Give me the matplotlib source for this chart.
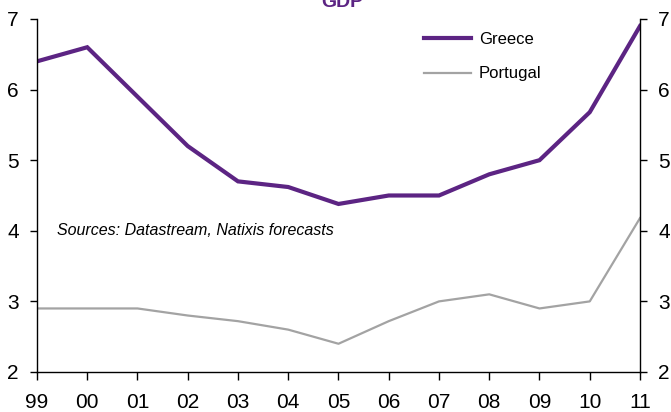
import matplotlib
matplotlib.use("Agg")
import matplotlib.pyplot as plt

plt.rcParams['font.family'] = ['Liberation Sans', 'DejaVu Sans']

years = ["99", "00", "01", "02", "03", "04", "05", "06", "07", "08", "09", "10", "11"]
greece = [6.4, 6.6, 5.9, 5.2, 4.7, 4.62, 4.38, 4.5, 4.5, 4.8, 5.0, 5.68, 6.9]
portugal = [2.9, 2.9, 2.9, 2.8, 2.72, 2.6, 2.4, 2.72, 3.0, 3.1, 2.9, 3.0, 4.18]
yticks = [2, 3, 4, 5, 6, 7]

purple = "#5c2483"
grey = "#a3a3a3"

fig = plt.figure(figsize=(6.71, 4.12), dpi=100)
ax = fig.add_axes([0.0551, 0.0971, 0.8987, 0.8568])
x = list(range(len(years)))

ax.plot(x, greece, color=purple, lw=3.0, label="Greece", solid_joinstyle="miter")
ax.plot(x, portugal, color=grey, lw=1.6, label="Portugal")

ax.set_xlim(0, len(years) - 1)
ax.set_ylim(2, 7)
ax.set_xticks(x)
ax.set_xticklabels(years)
ax.set_yticks(yticks)

ax.spines["top"].set_visible(False)
for s in ["left", "right", "bottom"]:
    ax.spines[s].set_linewidth(1.0)
    ax.spines[s].set_color("black")

ax.tick_params(axis="x", direction="out", length=6, width=1, labelsize=15, pad=9)
ax.tick_params(axis="y", direction="out", length=5, width=1, labelsize=15, pad=8,
               right=True, labelright=True)

ax.legend(loc="upper left", bbox_to_anchor=(0.617, 1.005), frameon=False,
          fontsize=12, handlelength=2.8, handletextpad=0.5, labelspacing=1.15)

ax.text(0.033, 0.4, "Sources: Datastream, Natixis forecasts", transform=ax.transAxes,
        fontsize=11.5, style="italic", va="center", ha="left")

# title sits at the very top edge of the figure
fig.text(0.51, 0.995, "GDP", color=purple, fontsize=14, fontweight="bold",
         ha="center", va="center")

fig.savefig("out.png", dpi=100)
